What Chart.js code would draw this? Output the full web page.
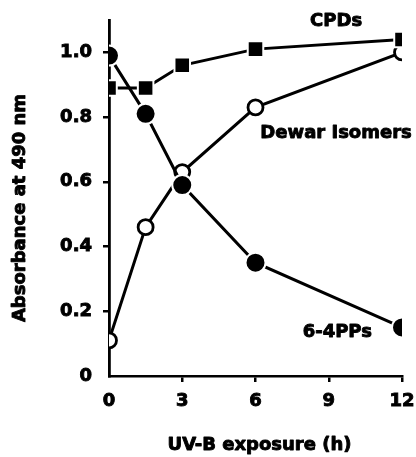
<!DOCTYPE html>
<html>
<head>
<meta charset="utf-8">
<script src="https://cdn.jsdelivr.net/npm/chart.js@4"></script>
<style>
html,body{margin:0;padding:0;background:#fff;}
#wrap{width:416px;height:457px;position:relative;}
</style>
</head>
<body>
<div id="wrap"><canvas id="c"></canvas></div>
<script>
const hours = [0, 1.5, 3, 6, 12];
const pp64 = [0.99, 0.81, 0.59, 0.35, 0.15];
const cpds = [0.89, 0.89, 0.96, 1.01, 1.04];
const dewar = [0.11, 0.46, 0.63, 0.83, 1.0];
const yTicks = [0, 0.2, 0.4, 0.6, 0.8, 1.0];
const xTicks = [0, 3, 6, 9, 12];
const xTitle = 'UV-B exposure (h)';
const yTitle = 'Absorbance at 490 nm';
const seriesLabels = [
  {text: 'CPDs', x: 9.3, y: 1.095},
  {text: 'Dewar Isomers', x: 9.3, y: 0.75},
  {text: '6-4PPs', x: 9.35, y: 0.135}
];
const FONT = '"DejaVu Sans", sans-serif';

const pts = arr => hours.map((h, i) => ({x: h, y: arr[i]}));

function boldText(ctx, text, x, y) {
  ctx.fillText(text, x, y);
  ctx.strokeText(text, x, y);
}

const labelPlugin = {
  id: 'seriesLabels',
  afterDraw(chart) {
    const {ctx, scales, chartArea} = chart;
    ctx.save();
    ctx.fillStyle = '#000';
    ctx.strokeStyle = '#000';
    ctx.lineWidth = 0.9;
    ctx.lineJoin = 'round';
    ctx.font = 'bold 18px ' + FONT;
    ctx.textAlign = 'center';
    ctx.textBaseline = 'middle';
    seriesLabels.forEach(l => {
      boldText(ctx, l.text, scales.x.getPixelForValue(l.x), scales.y.getPixelForValue(l.y));
    });
    // axis titles
    boldText(ctx, xTitle, (chartArea.left + chartArea.right) / 2 + 4, chart.height - 12);
    ctx.translate(20, (chartArea.top + chartArea.bottom) / 2 + 10);
    ctx.rotate(-Math.PI / 2);
    boldText(ctx, yTitle, 0, 0);
    ctx.restore();
  }
};

const tickFont = {family: FONT, size: 18, weight: 'bold'};

new Chart(document.getElementById('c'), {
  type: 'scatter',
  data: {
    datasets: [
      {
        label: '6-4PPs', data: pts(pp64), showLine: true,
        borderColor: '#000', borderWidth: 3,
        pointStyle: 'circle', pointRadius: 10, pointBackgroundColor: '#000',
        pointBorderColor: '#fff', pointBorderWidth: 2
      },
      {
        label: 'CPDs', data: pts(cpds), showLine: true,
        borderColor: '#000', borderWidth: 3,
        pointStyle: 'rect', pointRadius: 11, pointBackgroundColor: '#000',
        pointBorderColor: '#fff', pointBorderWidth: 2
      },
      {
        label: 'Dewar isomers', data: pts(dewar), showLine: true,
        borderColor: '#000', borderWidth: 3,
        pointStyle: 'circle', pointRadius: 7.5, pointBackgroundColor: '#fff',
        pointBorderColor: '#000', pointBorderWidth: 2.8
      }
    ]
  },
  options: {
    responsive: true,
    maintainAspectRatio: false,
    animation: false,
    layout: {padding: {left: 0, right: 14, top: 20, bottom: 0}},
    plugins: {legend: {display: false}, tooltip: {enabled: false}},
    scales: {
      x: {
        type: 'linear', min: 0, max: 12,
        afterBuildTicks: s => { s.ticks = xTicks.map(v => ({value: v})); },
        afterFit: s => { s.height = 81; s.paddingLeft = 0; s.paddingRight = 0; },
        border: {display: true, color: '#000', width: 2.5},
        grid: {drawOnChartArea: false, drawTicks: true, tickLength: 6, lineWidth: 2.5,
               color: '#000', tickColor: c => (c.tick && c.tick.value === 0) ? 'rgba(0,0,0,0)' : '#000'},
        ticks: {color: '#000', padding: 9, font: tickFont, maxRotation: 0,
                textStrokeColor: '#000', textStrokeWidth: 0.9},
        title: {display: false}
      },
      y: {
        type: 'linear', min: 0, max: 1.1,
        afterBuildTicks: s => { s.ticks = yTicks.map(v => ({value: v})); },
        afterFit: s => { s.width = 109; s.paddingTop = 0; s.paddingBottom = 0; },
        border: {display: true, color: '#000', width: 2.8},
        grid: {drawOnChartArea: false, drawTicks: true, tickLength: 6, lineWidth: 2.5,
               color: '#000', tickColor: c => (c.tick && c.tick.value === 0) ? 'rgba(0,0,0,0)' : '#000'},
        ticks: {color: '#000', padding: 11, font: tickFont,
                textStrokeColor: '#000', textStrokeWidth: 0.9,
                callback: v => v === 0 ? '0' : v.toFixed(1)},
        title: {display: false}
      }
    }
  },
  plugins: [labelPlugin]
});
</script>
</body>
</html>
